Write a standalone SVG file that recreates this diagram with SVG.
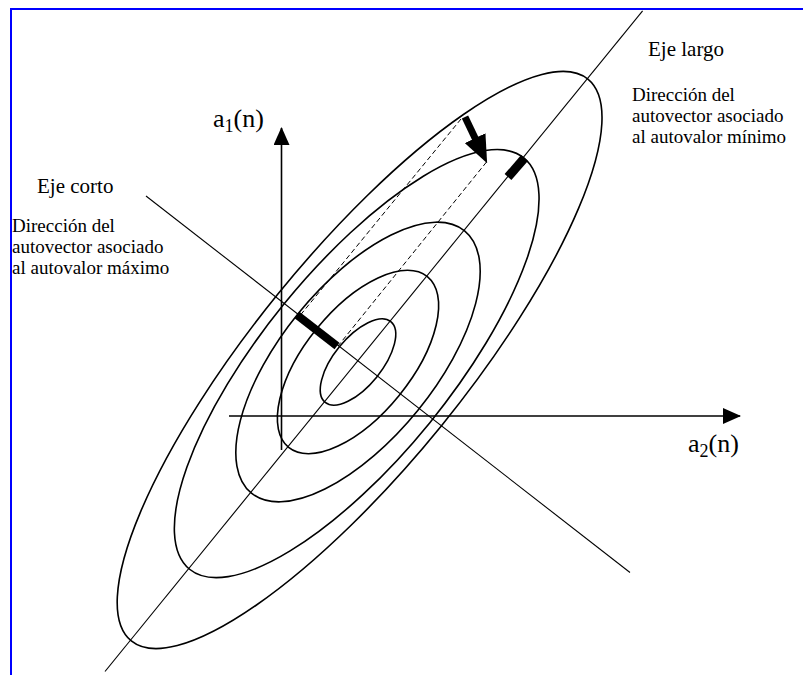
<svg xmlns="http://www.w3.org/2000/svg" width="803" height="675" viewBox="0 0 803 675">
<style>
  .t { font-family: "Liberation Serif", "Times New Roman", serif; fill: #000; }
  .lbl { font-size: 21px; }
  .desc { font-size: 19px; }
  .ax { font-size: 26px; }
  .sub { font-size: 18px; }
  .curve { fill: none; stroke: #000; stroke-width: 1.6; }
  .thin { fill: none; stroke: #000; stroke-width: 1.1; }
  .axis { fill: none; stroke: #000; stroke-width: 1.6; }
  .dash { fill: none; stroke: #000; stroke-width: 1; stroke-dasharray: 5 3; }
  .bar { fill: none; stroke: #000; stroke-linecap: butt; }
</style>
<defs>
  <marker id="ah" markerUnits="userSpaceOnUse" markerWidth="18" markerHeight="16" refX="17" refY="8" orient="auto">
    <path d="M0,0 L18,8 L0,16 z" fill="#000"/>
  </marker>
  <marker id="bigah" markerUnits="userSpaceOnUse" markerWidth="28" markerHeight="23" refX="1" refY="11.5" orient="auto">
    <path d="M0,0 L28,11.5 L0,23 z" fill="#000"/>
  </marker>
</defs>

<path id="frame" d="M11,675 V9 H803" fill="none" stroke="#0000ff" stroke-width="2"/>

<g id="ellipses">
  <g id="ellipse-1"><ellipse class="curve" cx="358" cy="362" rx="52" ry="24" transform="rotate(-50.9 358 362)"/></g>
  <g id="ellipse-2"><ellipse class="curve" cx="358" cy="362" rx="110" ry="53" transform="rotate(-50.9 358 362)"/></g>
  <g id="ellipse-3"><ellipse class="curve" cx="358" cy="362" rx="169" ry="77" transform="rotate(-50.9 358 362)"/></g>
  <g id="ellipse-4"><ellipse class="curve" cx="356.7" cy="363.6" rx="265" ry="94" transform="rotate(-50.9 356.7 363.6)"/></g>
  <g id="ellipse-5"><ellipse class="curve" cx="359.6" cy="360" rx="362" ry="105" transform="rotate(-50.9 359.6 360)"/></g>
</g>

<g id="connectors">
  <line id="long-axis" class="thin" x1="105" y1="671.5" x2="642.6" y2="10.8"/>
  <line id="short-axis" class="thin" x1="146" y1="196" x2="630" y2="572.5"/>
  <line id="axis-a1" class="axis" x1="281.5" y1="450" x2="281.5" y2="128" marker-end="url(#ah)"/>
  <line id="axis-a2" class="axis" x1="229" y1="416" x2="740" y2="416" marker-end="url(#ah)"/>
  <line id="dash-1" class="dash" x1="461" y1="119" x2="298" y2="318"/>
  <line id="dash-2" class="dash" x1="486.5" y1="162" x2="338" y2="346"/>
  <line id="bar-short" class="bar" x1="297" y1="315" x2="337" y2="346" stroke-width="8"/>
  <line id="bar-long" class="bar" x1="508" y1="177" x2="524.5" y2="158" stroke-width="9"/>
  <line id="arrow-min" class="bar" x1="465" y1="117" x2="475.5" y2="139" stroke-width="7" marker-end="url(#bigah)"/>
</g>

<g id="label-a1"><text class="t ax" x="213" y="127">a<tspan class="sub" dy="5">1</tspan><tspan dy="-5">(n)</tspan></text></g>
<g id="label-a2"><text class="t ax" x="688" y="452">a<tspan class="sub" dy="5">2</tspan><tspan dy="-5">(n)</tspan></text></g>

<g id="label-eje-largo"><text class="t lbl" x="648" y="56">Eje largo</text></g>
<g id="desc-min">
  <text class="t desc" x="632" y="101">Dirección del</text>
  <text class="t desc" x="632" y="122">autovector asociado</text>
  <text class="t desc" x="632" y="143">al autovalor mínimo</text>
</g>
<g id="label-eje-corto"><text class="t lbl" x="37" y="193">Eje corto</text></g>
<g id="desc-max">
  <text class="t desc" x="12" y="232">Dirección del</text>
  <text class="t desc" x="12" y="253">autovector asociado</text>
  <text class="t desc" x="12" y="274">al autovalor máximo</text>
</g>
</svg>
